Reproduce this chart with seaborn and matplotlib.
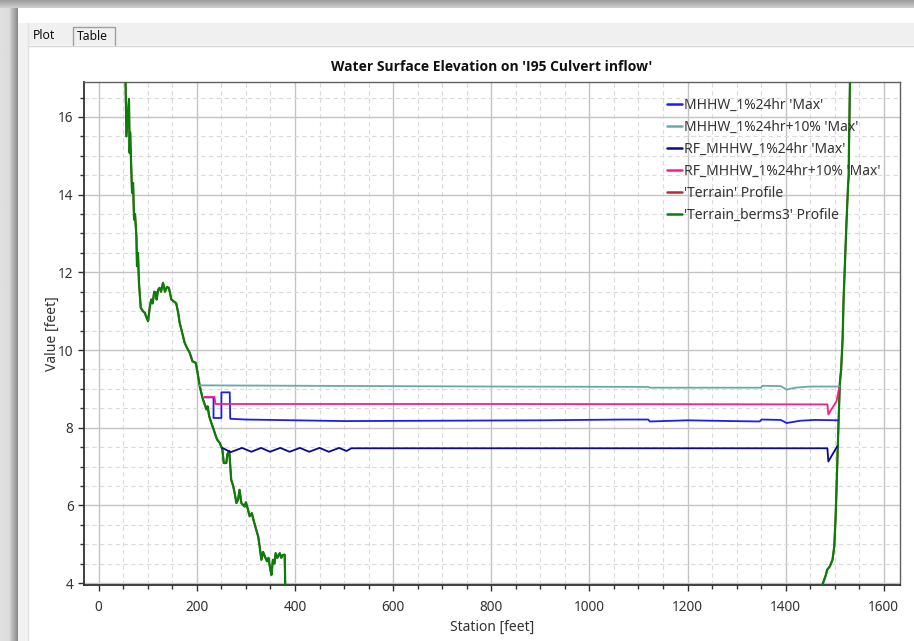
import numpy as np
import pandas as pd
import matplotlib
matplotlib.use("Agg")
import matplotlib.pyplot as plt
from matplotlib.patches import Rectangle
from matplotlib.ticker import MultipleLocator
import seaborn as sns

# ---------------- data ----------------
terrain_station = [54, 56.4, 61.7, 63, 64, 67.9, 70, 72, 74, 76.8, 78, 80, 82, 85.6, 90, 93.8, 97,
                   100.6, 104, 107, 110, 113, 116, 118, 121, 124, 127, 131, 135, 139, 143, 148, 153,
                   158, 162, 165, 170, 175, 180, 185.5, 191, 197.7, 201, 205.9, 209, 212.6, 216,
                   219.5, 222, 225, 229.6, 233, 236.4, 241, 246.6, 252, 254.8, 260, 262, 263.5, 266,
                   270, 274, 277, 280.6, 284, 287, 290.7, 297.4, 300, 304, 307.6, 312, 316, 321, 325,
                   328, 331.5, 335, 338, 343, 346, 349, 352, 355, 358, 360.6, 364, 369, 372, 375,
                   379, 380, 381, 1470, 1475, 1482, 1484.5, 1490, 1495.5, 1499, 1501.6, 1503.6,
                   1505.6, 1507.7, 1510.4, 1513, 1516, 1518, 1521, 1524, 1527, 1528.5, 1529, 1530,
                   1531, 1532]
terrain_elev = [17.5, 15.5, 16.46, 15.08, 15.6, 14.05, 14.3, 13.36, 13.5, 12.93, 12.16, 12.5, 11.73,
                11.09, 11.0, 10.96, 10.85, 10.74, 11.1, 11.3, 11.2, 11.5, 11.49, 11.3, 11.55, 11.6,
                11.5, 11.73, 11.5, 11.62, 11.6, 11.3, 11.25, 11.2, 10.95, 10.7, 10.45, 10.19, 10.05,
                9.93, 9.71, 9.67, 9.45, 9.07, 8.9, 8.72, 8.6, 8.47, 8.55, 8.3, 8.12, 8.0, 7.87, 7.7,
                7.61, 7.44, 7.09, 7.09, 7.3, 7.35, 7.4, 6.66, 6.5, 6.32, 6.06, 6.15, 6.4, 6.06, 5.97,
                6.08, 5.9, 5.72, 5.8, 5.6, 5.37, 5.2, 4.94, 4.6, 4.8, 4.7, 4.56, 4.65, 4.4, 4.21,
                4.6, 4.5, 4.77, 4.65, 4.77, 4.65, 4.72, 4.73, 4.0, 3.0, 3.0, 3.96, 4.21, 4.34, 4.43,
                4.6, 4.94, 5.63, 6.4, 7.26, 8.12, 9.15, 9.5, 10.27, 11.3, 12.3, 13.3, 14.2, 14.5,
                15.2, 16.0, 16.9, 17.5]
berms3_station = list(terrain_station)
berms3_elev = list(terrain_elev)

mhhw_station = [216, 234, 234, 250, 250, 267, 268, 300, 400, 500, 700, 900, 1069, 1120, 1123, 1200,
                1293, 1347, 1351, 1390, 1402, 1430, 1460, 1507]
mhhw_wse = [8.78, 8.78, 8.25, 8.25, 8.91, 8.91, 8.23, 8.21, 8.19, 8.17, 8.18, 8.19, 8.21, 8.21, 8.16,
            8.19, 8.17, 8.16, 8.21, 8.20, 8.12, 8.18, 8.20, 8.19]

mhhw10_station = [206, 400, 800, 1120, 1123, 1350, 1352, 1390, 1402, 1420, 1450, 1510]
mhhw10_wse = [9.09, 9.08, 9.06, 9.05, 9.03, 9.03, 9.08, 9.07, 8.98, 9.03, 9.06, 9.06]

rf_station = [252, 269, 292, 311, 331, 349, 370, 389, 410, 429, 450, 469, 490, 505, 515, 560, 1485,
              1487, 1505]
rf_wse = [7.48, 7.37, 7.48, 7.38, 7.48, 7.38, 7.48, 7.38, 7.48, 7.38, 7.48, 7.38, 7.48, 7.40, 7.47,
          7.47, 7.47, 7.13, 7.52]

rf10_station = [216, 236, 238, 800, 1485, 1487, 1493, 1503.6, 1509]
rf10_wse = [8.79, 8.79, 8.61, 8.61, 8.60, 8.34, 8.47, 8.68, 9.03]

series_labels = ["MHHW_1%24hr 'Max'", "MHHW_1%24hr+10% 'Max'", "RF_MHHW_1%24hr 'Max'",
                 "RF_MHHW_1%24hr+10% 'Max'", "'Terrain' Profile", "'Terrain_berms3' Profile"]
x_ticks = [0, 200, 400, 600, 800, 1000, 1200, 1400, 1600]
y_ticks = [4, 6, 8, 10, 12, 14, 16]

# ---------------- figure ----------------
sns.set_style("white")
plt.rcParams["font.family"] = ["Noto Sans", "DejaVu Sans"]

W, H = 914, 641
fig = plt.figure(figsize=(W / 100, H / 100), dpi=100)
fig.patch.set_facecolor("white")

# window chrome in pixel coordinates
bg = fig.add_axes([0, 0, 1, 1], zorder=-5)
bg.set_xlim(0, W)
bg.set_ylim(H, 0)
bg.axis("off")
top_grad = np.linspace(0.62, 0.80, 8).reshape(-1, 1)
bg.imshow(np.repeat(top_grad, 2, axis=1), cmap="gray", vmin=0, vmax=1, aspect="auto",
          extent=(0, W, 8, 0), interpolation="bilinear")
left_grad = np.concatenate([np.linspace(0.88, 0.86, 10), np.linspace(0.80, 0.55, 8)]).reshape(1, -1)
bg.imshow(np.repeat(left_grad, 2, axis=0), cmap="gray", vmin=0, vmax=1, aspect="auto",
          extent=(0, 18, H, 8), interpolation="bilinear")
bg.add_patch(Rectangle((18, 8), 10, H, color="#f2f2f2", lw=0))
bg.add_patch(Rectangle((18, 8), W, 15, color="white", lw=0))
bg.add_patch(Rectangle((28, 23), W, 22, color="#f0f0f0", lw=0))
bg.plot([28, W], [45.5, 45.5], color="#d6d6d6", lw=1)
bg.plot([27.5, 27.5], [23, H], color="#e2e2e2", lw=1)
bg.plot([72.5, 72.5, 114.5, 114.5], [45, 26.5, 26.5, 45], color="#a0a0a0", lw=1)
bg.text(33, 35.5, "Plot", fontsize=8.8, va="center", ha="left", color="#101010")
bg.text(77, 36.5, "Table", fontsize=8.8, va="center", ha="left", color="#101010")

ax = fig.add_axes([84 / W, 1 - 585 / H, (900 - 84) / W, (585 - 82) / H])
ax.set_facecolor("white")

sns.lineplot(x=terrain_station, y=terrain_elev, ax=ax, color="#b03030", lw=1.3,
             estimator=None, sort=False, label=series_labels[4], zorder=3)
sns.lineplot(x=berms3_station, y=berms3_elev, ax=ax, color="#0a7d0a", lw=1.6,
             estimator=None, sort=False, label=series_labels[5], zorder=4)
sns.lineplot(x=mhhw10_station, y=mhhw10_wse, ax=ax, color="#6aa9a9", lw=1.3,
             estimator=None, sort=False, label=series_labels[1], zorder=5)
sns.lineplot(x=mhhw_station, y=mhhw_wse, ax=ax, color="#1c1cf5", lw=1.3,
             estimator=None, sort=False, label=series_labels[0], zorder=5)
sns.lineplot(x=rf_station, y=rf_wse, ax=ax, color="#0a0a90", lw=1.3,
             estimator=None, sort=False, label=series_labels[2], zorder=5)
sns.lineplot(x=rf10_station, y=rf10_wse, ax=ax, color="#ff1a8c", lw=1.3,
             estimator=None, sort=False, label=series_labels[3], zorder=6)

ax.set_xlim(-30, 1633)
ax.set_ylim(3.95, 16.9)
ax.set_xticks(x_ticks)
ax.set_yticks(y_ticks)
ax.xaxis.set_minor_locator(MultipleLocator(50))
ax.yaxis.set_minor_locator(MultipleLocator(0.5))
ax.grid(True, which="major", color="#c4c4c4", lw=1.0, ls="-")
ax.grid(True, which="minor", color="#dadada", lw=0.8, ls=(0, (4, 3)))
ax.set_axisbelow(True)
ax.tick_params(axis="both", which="major", direction="out", length=4.5, width=1,
               color="#303030", labelsize=9.8, labelcolor="#333333",
               bottom=True, left=True, top=False, right=False)
ax.tick_params(axis="x", which="major", pad=6)
ax.tick_params(axis="y", which="major", pad=3)
ax.tick_params(axis="both", which="minor", direction="out", length=3, width=1,
               color="#303030", bottom=True, left=True, top=False, right=False)
for side in ["left", "bottom"]:
    ax.spines[side].set_color("#303030")
    ax.spines[side].set_linewidth(1.3)
for side in ["top", "right"]:
    ax.spines[side].set_color("#606060")
    ax.spines[side].set_linewidth(1.0)

ax.set_title("Water Surface Elevation on 'I95 Culvert inflow'", fontsize=10,
             fontweight="bold", family=["Open Sans", "DejaVu Sans"], color="#101010", pad=8)
ax.set_xlabel("Station [feet]", fontsize=10, color="#333333", labelpad=4)
ax.set_ylabel("Value [feet]", fontsize=10, color="#333333", labelpad=-1)

handles, labels = ax.get_legend_handles_labels()
order = [labels.index(l) for l in series_labels]
leg = ax.legend([handles[i] for i in order], [labels[i] for i in order],
                loc="upper left", bbox_to_anchor=(667 / W, 1 - 98 / H),
                bbox_transform=fig.transFigure, frameon=False, fontsize=10,
                handlelength=1.05, handletextpad=0.2, labelspacing=0.5, borderpad=0,
                borderaxespad=0)
for t in leg.get_texts():
    t.set_color("#333333")
for h in leg.get_lines():
    h.set_linewidth(1.8)

fig.savefig("out.png", dpi=100)
